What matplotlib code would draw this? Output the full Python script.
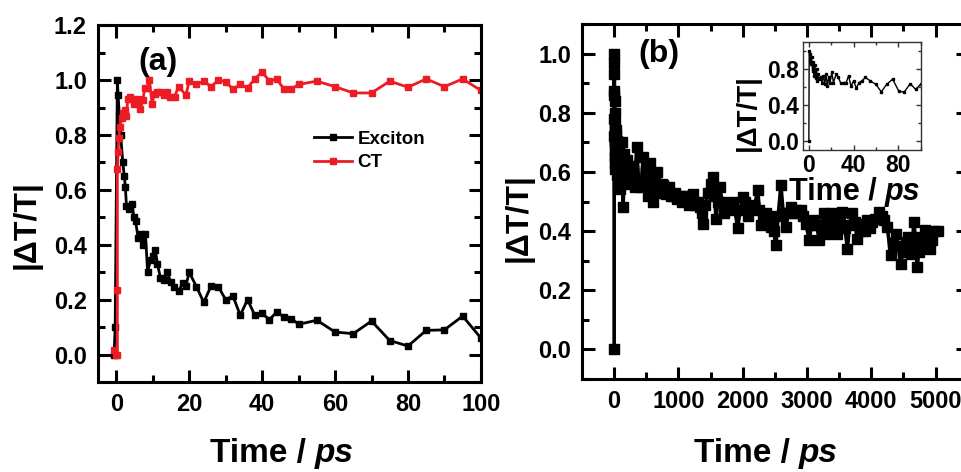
import matplotlib
matplotlib.use("Agg")
import matplotlib.pyplot as plt
from matplotlib.ticker import MultipleLocator

plt.rcParams.update({
    "font.family": "Liberation Sans",
    "font.weight": "bold",
    "xtick.direction": "in",
    "ytick.direction": "in",
    "xtick.top": True,
    "ytick.right": True,
    "xtick.major.size": 9,
    "ytick.major.size": 9,
    "xtick.minor.size": 5,
    "ytick.minor.size": 5,
    "xtick.major.width": 2.2,
    "ytick.major.width": 2.2,
    "xtick.minor.width": 2.2,
    "ytick.minor.width": 2.2,
})

# ---- panel (a): exciton / CT dynamics, 0-100 ps
exc_t = [-0.6, -0.3, 0.3, 0.5, 1.2, 1.8, 2.2, 2.5, 2.8, 3.6, 4.4, 4.8, 5.3, 6.0, 6.9, 7.4,
         8.0, 8.6, 9.4, 10.0, 10.7, 11.3, 12.1, 13.0, 14.0, 14.9, 15.9, 17.1, 18.2, 19.1,
         20, 22, 24, 26, 28, 30, 32, 34, 36, 38, 40, 42, 44, 46, 48, 50, 55, 60, 65, 70,
         75, 80, 85, 90, 95, 100]
exc_y = [0.0, 0.10, 1.0, 0.945, 0.80, 0.70, 0.65, 0.61, 0.54, 0.53, 0.55, 0.50, 0.485, 0.425,
         0.44, 0.40, 0.44, 0.30, 0.345, 0.36, 0.38, 0.33, 0.28, 0.27, 0.30, 0.265, 0.247, 0.23,
         0.26, 0.25, 0.30, 0.247, 0.19, 0.25, 0.247, 0.20, 0.213, 0.143, 0.20, 0.143, 0.15,
         0.127, 0.155, 0.137, 0.131, 0.11, 0.125, 0.082, 0.076, 0.122, 0.051, 0.031, 0.088,
         0.09, 0.14, 0.06]

ct_t = [-0.6, 0.0, 0.3, 0.3, 0.3, 0.5, 0.7, 1.0, 1.5, 1.9, 2.3, 2.7, 3.2, 3.7, 4.4, 4.8, 5.3,
        6.0, 6.6, 7.3, 7.8, 8.5, 9.1, 9.8, 10.5, 11.2, 12.1, 13.0, 13.9, 14.8, 16.0, 17.1,
        19.1, 20, 22, 24, 26, 28, 30, 32, 34, 36, 38, 40, 42, 44, 46, 48, 50, 55, 60, 65,
        70, 75, 80, 85, 90, 95, 100]
ct_y = [0.015, 0.0, 0.0, 0.235, 0.675, 0.737, 0.79, 0.83, 0.86, 0.88, 0.89, 0.87, 0.93, 0.94,
        0.93, 0.914, 0.927, 0.93, 0.896, 0.927, 0.97, 0.97, 1.0, 0.914, 0.95, 0.957, 0.955,
        0.945, 0.955, 0.94, 0.94, 0.976, 0.945, 0.996, 0.984, 0.996, 0.976, 1.0, 0.994, 0.967,
        0.984, 0.972, 1.004, 1.03, 0.996, 1.004, 0.967, 0.967, 0.984, 0.996, 0.976, 0.953,
        0.953, 0.996, 0.974, 1.004, 0.976, 1.004, 0.962]

# ---- panel (b) inset: first 100 ps
ins_t = [0, 0.3, 1.0, 1.5, 2.4, 3.3, 3.9, 4.5, 5.4, 6.3, 6.9, 7.5, 8.4, 9.3, 10.5, 11.7, 13.0,
         14.2, 15.4, 16.6, 17.8, 19.0, 20.5, 22.0, 24.4, 26.5, 28.6, 31.0, 33.4, 35.5, 37.7,
         40.0, 42.5, 44.9, 47.3, 50.6, 55.0, 59.9, 64.8, 69.6, 75.0, 80.4, 85.2, 90.7, 95.5, 100]
ins_y = [0.0, 1.0, 0.97, 0.86, 0.93, 0.78, 0.875, 0.72, 0.84, 0.705, 0.80, 0.668, 0.74, 0.687,
         0.706, 0.65, 0.725, 0.63, 0.743, 0.61, 0.706, 0.65, 0.762, 0.65, 0.743, 0.706, 0.64,
         0.65, 0.65, 0.725, 0.61, 0.668, 0.59, 0.65, 0.668, 0.706, 0.668, 0.63, 0.547, 0.63,
         0.687, 0.555, 0.543, 0.638, 0.574, 0.63]

# ---- panel (b): long time decay, 100-5000 ps (appended to the inset data)
long_t = [120, 140, 160, 180, 200, 230, 260, 290, 320, 350, 380, 420, 450, 480, 500, 530, 550,
          580, 600, 630, 660, 690, 710, 740, 760, 790, 810, 840, 860, 890, 915, 950, 980, 1020,
          1060, 1090, 1120, 1160, 1190, 1225, 1260, 1300, 1330, 1360, 1380, 1420, 1460, 1500,
          1535, 1560, 1585, 1610, 1640, 1680, 1715, 1750, 1800, 1845, 1880, 1920, 1960, 2000,
          2040, 2077, 2130, 2180, 2233, 2260, 2284, 2320, 2360, 2400, 2440, 2480, 2517, 2550,
          2594, 2630, 2672, 2710, 2750, 2790, 2827, 2870, 2904, 2940, 2982, 3034, 3070, 3111,
          3150, 3189, 3230, 3266, 3290, 3318, 3360, 3395, 3430, 3473, 3510, 3550, 3590, 3628,
          3660, 3705, 3740, 3783, 3820, 3860, 3900, 3938, 3980, 4015, 4060, 4119, 4160, 4196,
          4248, 4300, 4340, 4377, 4420, 4455, 4490, 4532, 4570, 4610, 4640, 4661, 4690, 4713,
          4740, 4765, 4800, 4842, 4880, 4920, 4950, 4971, 5040]
long_y = [0.70, 0.48, 0.66, 0.58, 0.64, 0.56, 0.62, 0.60, 0.55, 0.685, 0.57, 0.55, 0.65, 0.56,
          0.60, 0.52, 0.63, 0.56, 0.50, 0.58, 0.60, 0.53, 0.55, 0.56, 0.555, 0.53, 0.527, 0.54,
          0.55, 0.52, 0.52, 0.53, 0.51, 0.52, 0.50, 0.52, 0.505, 0.49, 0.52, 0.527, 0.49, 0.50,
          0.48, 0.46, 0.425, 0.49, 0.53, 0.56, 0.583, 0.52, 0.44, 0.50, 0.55, 0.50, 0.46, 0.49,
          0.49, 0.50, 0.47, 0.41, 0.47, 0.516, 0.50, 0.45, 0.49, 0.48, 0.538, 0.47, 0.42, 0.44,
          0.46, 0.45, 0.414, 0.40, 0.352, 0.45, 0.555, 0.46, 0.414, 0.46, 0.48, 0.46, 0.47, 0.46,
          0.47, 0.45, 0.425, 0.37, 0.42, 0.437, 0.42, 0.37, 0.42, 0.46, 0.43, 0.39, 0.44, 0.46,
          0.42, 0.39, 0.44, 0.465, 0.41, 0.34, 0.42, 0.46, 0.43, 0.375, 0.40, 0.425, 0.40, 0.437,
          0.41, 0.43, 0.44, 0.465, 0.45, 0.437, 0.414, 0.32, 0.36, 0.39, 0.35, 0.29, 0.33, 0.364,
          0.38, 0.324, 0.36, 0.43, 0.37, 0.28, 0.33, 0.38, 0.36, 0.403, 0.37, 0.34, 0.37, 0.40,
          0.40]

RED = "#ed1c24"
ylab = "|\u0394T/T|"


def time_label(x, y, size):
    # "Time / " upright bold, "ps" bold italic, centred as one label
    fig.text(x + 0.024 * size / 24, y, "Time / ", fontsize=size, ha="right", va="baseline")
    fig.text(x + 0.024 * size / 24, y, "ps", fontsize=size, style="italic",
             ha="left", va="baseline")


fig = plt.figure(figsize=(9.62, 4.72), dpi=100)

# panel (a)
ax1 = fig.add_axes([0.1019, 0.1907, 0.398, 0.756])
ax1.plot(exc_t, exc_y, "-s", color="black", lw=2.0, ms=5, label="Exciton")
ax1.plot(ct_t, ct_y, "-s", color=RED, lw=2.0, ms=5, label="CT")
ax1.set_xlim(-5, 100)
ax1.set_ylim(-0.1, 1.2)
ax1.xaxis.set_major_locator(MultipleLocator(20))
ax1.xaxis.set_minor_locator(MultipleLocator(10))
ax1.yaxis.set_major_locator(MultipleLocator(0.2))
ax1.yaxis.set_minor_locator(MultipleLocator(0.1))
ax1.yaxis.set_major_formatter(lambda v, p: f"{v:.1f}")
for s in ax1.spines.values():
    s.set_linewidth(2.2)
ax1.tick_params(which="both", labelsize=17, pad=8)
ax1.text(0.157, 0.897, "(a)", transform=ax1.transAxes, fontsize=23,
         ha="center", va="center")
ax1.legend(loc="upper left", bbox_to_anchor=(0.565, 0.705), frameon=False,
           prop={"size": 13.5, "weight": "bold"}, handlelength=2.0,
           handletextpad=0.3, labelspacing=0.35, borderpad=0, borderaxespad=0)

# panel (b)
ax2 = fig.add_axes([0.605, 0.197, 0.401, 0.752])
ax2.plot(ins_t + long_t, ins_y + long_y, "-s", color="black", lw=2.6, ms=6.5)
ax2.set_xlim(-500, 5500)
ax2.set_ylim(-0.1, 1.1)
ax2.xaxis.set_major_locator(MultipleLocator(1000))
ax2.xaxis.set_minor_locator(MultipleLocator(500))
ax2.yaxis.set_major_locator(MultipleLocator(0.2))
ax2.yaxis.set_minor_locator(MultipleLocator(0.1))
ax2.yaxis.set_major_formatter(lambda v, p: f"{v:.1f}")
for s in ax2.spines.values():
    s.set_linewidth(2.2)
ax2.tick_params(which="both", labelsize=17, pad=8)
ax2.text(0.20, 0.915, "(b)", transform=ax2.transAxes, fontsize=23,
         ha="center", va="center")

# inset
ax3 = fig.add_axes([0.835, 0.682, 0.122, 0.229])
ax3.plot(ins_t, ins_y, "-s", color="black", lw=1.0, ms=2)
ax3.set_xlim(-5, 100)
ax3.set_ylim(-0.1, 1.1)
ax3.xaxis.set_major_locator(MultipleLocator(40))
ax3.xaxis.set_minor_locator(MultipleLocator(20))
ax3.yaxis.set_major_locator(MultipleLocator(0.4))
ax3.yaxis.set_minor_locator(MultipleLocator(0.2))
ax3.yaxis.set_major_formatter(lambda v, p: f"{v:.1f}")
for s in ax3.spines.values():
    s.set_linewidth(1.0)
    s.set_color("#333333")
ax3.tick_params(which="both", labelsize=16.5, pad=3, width=1.0, color="#333333")
ax3.tick_params(which="major", length=3.5)
ax3.tick_params(which="minor", length=2)

# axis titles
time_label(292 / 962, 1 - 462 / 472, 24)
time_label(776 / 962, 1 - 462 / 472, 24)
time_label(864 / 962, 1 - 200 / 472, 22)
fig.text(27 / 962, 1 - 225 / 472, ylab, fontsize=23, rotation=90, ha="center", va="center")
fig.text(519 / 962, 1 - 218 / 472, ylab, fontsize=23, rotation=90, ha="center", va="center")
fig.text(748 / 962, 1 - 113 / 472, ylab, fontsize=20, rotation=90, ha="center", va="center")

fig.savefig("out.png", dpi=100)
